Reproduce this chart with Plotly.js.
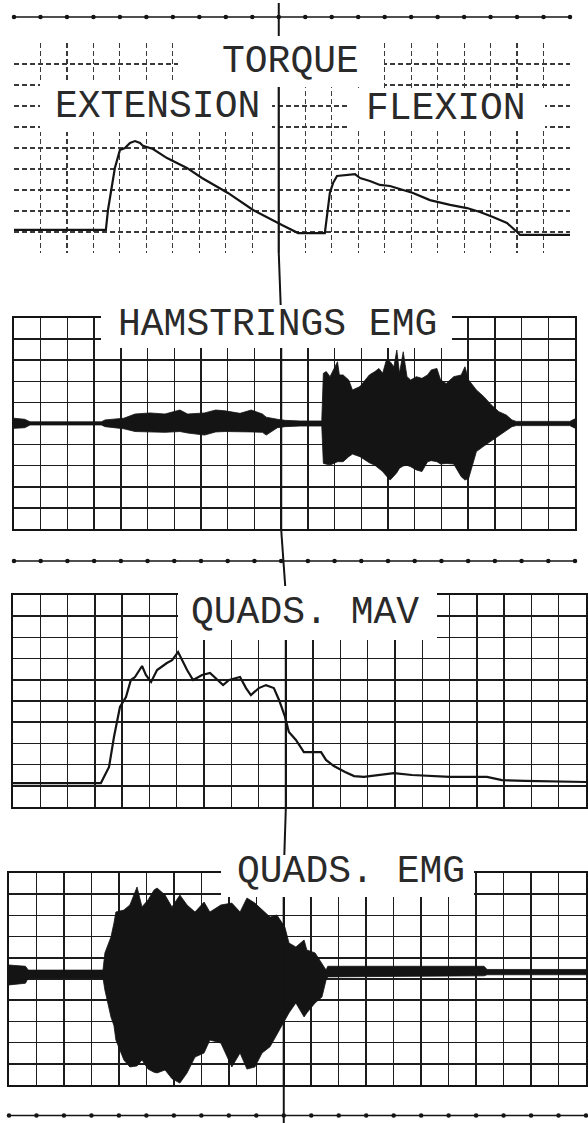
<!DOCTYPE html>
<html>
<head>
<meta charset="utf-8">
<script src="https://cdn.plot.ly/plotly-3.0.1.min.js"></script>
<style>
  html, body { margin: 0; padding: 0; background: #fff; }
  #chart { width: 588px; height: 1123px; }
</style>
</head>
<body>
<div id="chart"></div>
<script>
// Time runs in chart divisions (21 per trace), amplitudes in divisions (10 per panel).

// --- Torque (extension then flexion) ---
const torqueT = [0, 3.47, 3.55, 3.70, 3.81, 4.00, 4.19, 4.38, 4.57, 4.76, 4.87, 5.25, 5.78, 6.53, 7.10, 8.08, 9.03, 10.12, 10.73,
                 11.74, 11.93, 12.05, 12.20, 12.88, 13.07, 13.44, 13.82, 14.20, 14.58, 15.07, 15.71, 16.47, 17.11, 17.60, 18.09, 18.62, 19.00, 19.11, 21];
const torqueV = [1.10, 1.10, 2.05, 3.10, 4.05, 4.90, 5.00, 5.24, 5.33, 5.24, 5.10, 4.95, 4.52, 4.05, 3.57, 2.86, 2.05, 1.33, 0.95,
                 0.95, 2.86, 3.33, 3.67, 3.76, 3.57, 3.43, 3.24, 3.19, 3.05, 2.86, 2.52, 2.29, 2.14, 1.95, 1.71, 1.43, 1.00, 0.86, 0.86];

// --- Hamstrings EMG envelope (upper / lower edge of the raw trace) ---
const hamT = [0, 0.4, 0.6, 3.27, 3.41, 4.11, 4.53, 5.09, 5.65, 6.21, 6.50, 7.13, 7.55, 7.90, 8.46, 8.88, 9.30, 9.44, 9.86, 10.15, 10.71, 11.52,
              11.58, 11.69, 11.83, 11.97, 12.11, 12.18, 12.32, 12.53, 12.67, 12.95, 13.16, 13.30, 13.51, 13.66, 13.80, 13.94, 14.08, 14.22, 14.33, 14.43,
              14.57, 14.71, 14.85, 15.06, 15.27, 15.48, 15.62, 15.83, 15.97, 16.18, 16.46, 16.74, 16.88, 17.02, 17.31, 17.59, 17.87, 18.15, 18.43, 18.64,
              18.80, 20.80, 21];
const hamTop = [5.25, 5.20, 5.08, 5.08, 5.17, 5.25, 5.45, 5.50, 5.45, 5.64, 5.45, 5.50, 5.64, 5.60, 5.48, 5.64, 5.45, 5.30, 5.20, 5.15, 5.12, 5.12,
                7.38, 7.46, 7.22, 7.54, 7.93, 7.30, 7.30, 7.06, 6.59, 6.75, 7.06, 7.30, 7.46, 7.61, 7.38, 8.01, 7.93, 7.69, 8.48, 7.38,
                8.40, 7.22, 7.06, 7.22, 7.14, 7.30, 7.54, 7.61, 7.06, 6.90, 7.22, 7.30, 7.69, 7.06, 6.59, 6.27, 5.88, 5.56, 5.40, 5.17,
                5.10, 5.10, 5.22];
const hamBot = [4.77, 4.80, 4.93, 4.93, 4.85, 4.75, 4.62, 4.60, 4.58, 4.62, 4.55, 4.45, 4.60, 4.62, 4.62, 4.60, 4.58, 4.45, 4.80, 4.85, 4.88, 4.88,
                3.11, 3.08, 3.03, 3.11, 3.19, 3.19, 3.19, 3.43, 3.55, 3.43, 3.24, 3.14, 3.02, 2.88, 2.72, 2.51, 2.32, 2.51, 2.67, 2.88,
                2.99, 3.02, 2.95, 2.80, 2.72, 3.19, 3.24, 3.19, 3.08, 3.11, 3.08, 2.48, 2.32, 2.40, 3.67, 3.93, 4.17, 4.41, 4.66, 4.85,
                4.90, 4.90, 4.78];

// --- Quadriceps mean absolute value ---
const mavT = [0, 3.22, 3.52, 3.70, 3.92, 4.14, 4.32, 4.47, 4.73, 4.87, 5.06, 5.28, 5.64, 5.83, 6.05, 6.27, 6.38, 6.60, 6.93, 7.22,
              7.48, 7.70, 7.92, 8.32, 8.54, 8.72, 9.01, 9.27, 9.56, 9.75, 9.97, 10.11, 10.37, 10.66, 10.92, 11.29, 11.47, 11.76, 12.17, 12.50,
              12.86, 13.96, 14.62, 16.01, 17.37, 17.92, 18.76, 21];
const mavV = [1.13, 1.13, 1.89, 3.30, 4.72, 5.19, 5.99, 6.13, 6.65, 6.23, 5.90, 6.46, 6.79, 6.93, 7.31, 6.70, 6.46, 5.99, 6.23, 6.32,
              5.99, 5.75, 5.99, 6.13, 5.61, 5.28, 5.61, 5.75, 5.61, 5.05, 4.25, 3.54, 3.16, 2.59, 2.59, 2.59, 2.22, 1.93, 1.65, 1.46,
              1.42, 1.60, 1.51, 1.42, 1.42, 1.27, 1.23, 1.18];

// --- Quadriceps EMG envelope ---
const quadT = [0, 0.6, 0.7, 3.40,
               3.42, 3.49, 3.71, 3.82, 3.89, 4.18, 4.40, 4.66, 4.84, 5.06, 5.28, 5.39, 5.68, 5.93, 6.22, 6.48, 6.77, 7.10, 7.31, 7.71,
               8.11, 8.41, 8.66, 8.95, 9.21, 9.50, 9.75, 10.04, 10.19, 10.44, 10.74, 10.84, 11.14, 11.39, 11.54,
               11.60, 17.29, 17.40, 21];
const quadTop = [5.66, 5.60, 5.42, 5.42,
                 5.42, 6.23, 6.98, 7.64, 8.16, 8.25, 8.49, 9.34, 8.40, 8.73, 9.20, 9.29, 8.96, 8.40, 8.96, 8.49, 8.16, 8.63, 8.16, 8.49,
                 8.58, 8.16, 8.82, 8.58, 8.25, 7.92, 8.02, 7.45, 6.70, 6.51, 6.84, 6.37, 6.23, 5.75, 5.42,
                 5.60, 5.60, 5.45, 5.45];
const quadBot = [4.72, 4.80, 5.05, 5.05,
                 5.05, 4.48, 3.21, 2.80, 2.12, 1.18, 0.85, 0.90, 1.18, 0.75, 0.60, 0.57, 0.71, 0.30, 0.09, 0.57, 1.32, 1.51, 2.12, 1.98,
                 0.85, 1.51, 0.75, 0.85, 1.51, 1.80, 2.40, 3.07, 3.40, 3.87, 3.21, 3.40, 3.87, 4.15, 4.95,
                 5.10, 5.15, 5.20, 5.20];

// --- Time-base marker ticks (one per division) ---
const markTicks = [0, 1, 2, 3, 4, 5, 6, 7, 8, 9, 10, 11, 12, 13, 14, 15, 16, 17, 18, 19, 20, 21];

// --- Channel labels ---
const labels = ['TORQUE', 'EXTENSION', 'FLEXION', 'HAMSTRINGS EMG', 'QUADS. MAV', 'QUADS. EMG'];

// ---------------------------------------------------------------------------
// Page geometry (pixels) for the four strip-chart panels
const W = 588, H = 1123;
const PANELS = [
  { l: 14, r: 570, t: 43,  b: 253 },
  { l: 14, r: 575, t: 318, b: 529 },
  { l: 13, r: 586, t: 595, b: 807 },
  { l: 9,  r: 586, t: 873, b: 1085 }
];
const px = x => x / W;
const py = y => 1 - y / H;
const INK = '#141414';

const layout = {
  width: W, height: H,
  margin: { l: 0, r: 0, t: 0, b: 0 },
  paper_bgcolor: '#ffffff',
  plot_bgcolor: 'rgba(0,0,0,0)',
  showlegend: false,
  font: { family: 'Liberation Mono, Courier New, monospace', color: INK },
  shapes: [],
  annotations: []
};

PANELS.forEach((p, i) => {
  const k = i === 0 ? '' : String(i + 1);
  const dashed = i === 0;
  const common = {
    tick0: 0, dtick: 1, showticklabels: false, ticks: '', zeroline: false,
    showgrid: true, gridcolor: dashed ? '#3a3a3a' : '#1c1c1c', gridwidth: dashed ? 1.1 : 1.5,
    griddash: dashed ? '5px,3px' : 'solid',
    showline: !dashed, mirror: !dashed, linecolor: INK, linewidth: 2, fixedrange: true
  };
  layout['xaxis' + k] = Object.assign({ domain: [px(p.l), px(p.r)], range: [0, 21], anchor: 'y' + k }, common);
  layout['yaxis' + k] = Object.assign({ domain: [py(p.b), py(p.t)], range: [0, 10], anchor: 'x' + k }, common);
  // heavier centre division line
  layout.shapes.push({
    type: 'line', xref: 'x' + k, yref: 'y' + k, x0: 10, x1: 10, y0: 0, y1: 10,
    line: { color: INK, width: 2.2 }, layer: 'above'
  });
});

// marker strips: top, between hamstrings and quads MAV, bottom
const MARKERS = [
  { panel: 0, y: 17 },
  { panel: 1, y: 561 },
  { panel: 3, y: 1116 }
];
MARKERS.forEach((m, j) => {
  const n = String(5 + j);
  const p = PANELS[m.panel];
  layout['xaxis' + n] = { domain: [px(p.l), px(p.r)], range: [0, 21], anchor: 'y' + n, visible: false, fixedrange: true };
  layout['yaxis' + n] = { domain: [py(m.y + 8), py(m.y - 8)], range: [0, 1], anchor: 'x' + n, visible: false, fixedrange: true };
});

// centre line joining the panels
const cx = p => p.l + 10 * (p.r - p.l) / 21;
const seg = (x0, y0, x1, y1) => layout.shapes.push({
  type: 'line', xref: 'paper', yref: 'paper', x0: px(x0), x1: px(x1), y0: py(y0), y1: py(y1),
  line: { color: INK, width: 2 }, layer: 'above'
});
seg(cx(PANELS[0]), 3, cx(PANELS[0]), PANELS[0].t);
for (let i = 0; i < 3; i++) seg(cx(PANELS[i]), PANELS[i].b, cx(PANELS[i + 1]), PANELS[i + 1].t);
seg(cx(PANELS[3]), PANELS[3].b, cx(PANELS[3]), H);

// white label blocks that blank the grid
const BLOCKS = [
  [178, 36, 384, 87],
  [40, 83, 272, 132],
  [350, 88, 545, 131],
  [101, 305, 452, 348],
  [178, 586, 437, 640],
  [221, 855, 474, 897]
];
BLOCKS.forEach(b => layout.shapes.push({
  type: 'rect', xref: 'paper', yref: 'paper', x0: px(b[0]), x1: px(b[2]), y0: py(b[3]), y1: py(b[1]),
  fillcolor: '#ffffff', line: { width: 0 }, layer: 'above'
}));

// label placement (centre of text, pixels)
const LABEL_POS = [[290, 62], [157, 106], [446, 109], [277, 324], [305, 612], [351, 871]];
labels.forEach((t, i) => layout.annotations.push({
  text: t, xref: 'paper', yref: 'paper', x: px(LABEL_POS[i][0]), y: py(LABEL_POS[i][1]),
  xanchor: 'center', yanchor: 'middle', showarrow: false,
  font: { family: 'Liberation Mono, Courier New, monospace', size: 38, color: '#2a2a2a' }
}));

const band = (x, lo, hi, ax, ay) => [
  { x: x, y: lo, xaxis: ax, yaxis: ay, type: 'scatter', mode: 'lines',
    line: { color: INK, width: 0.8 }, hoverinfo: 'skip' },
  { x: x, y: hi, xaxis: ax, yaxis: ay, type: 'scatter', mode: 'lines', fill: 'tonexty',
    fillcolor: INK, line: { color: INK, width: 0.8 }, hoverinfo: 'skip' }
];

const data = [
  { x: torqueT, y: torqueV, xaxis: 'x', yaxis: 'y', type: 'scatter', mode: 'lines',
    line: { color: INK, width: 2.2 }, hoverinfo: 'skip' },
  ...band(hamT, hamBot, hamTop, 'x2', 'y2'),
  { x: mavT, y: mavV, xaxis: 'x3', yaxis: 'y3', type: 'scatter', mode: 'lines',
    line: { color: INK, width: 2.2 }, hoverinfo: 'skip' },
  ...band(quadT, quadBot, quadTop, 'x4', 'y4')
];
MARKERS.forEach((m, j) => {
  const n = String(5 + j);
  data.push({
    x: markTicks, y: markTicks.map(() => 0.5), xaxis: 'x' + n, yaxis: 'y' + n,
    type: 'scatter', mode: 'lines+markers', cliponaxis: false,
    line: { color: INK, width: 1.5 }, marker: { color: INK, size: 4.5 }, hoverinfo: 'skip'
  });
});

Plotly.newPlot('chart', data, layout, { staticPlot: true, displayModeBar: false });
</script>
</body>
</html>
